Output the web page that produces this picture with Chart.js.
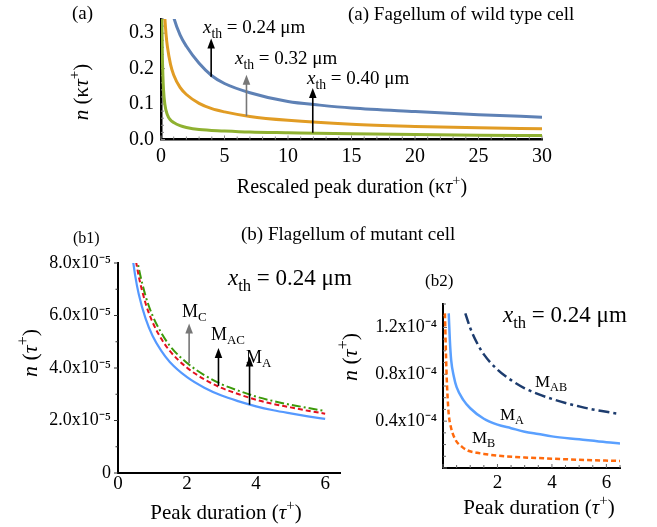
<!DOCTYPE html>
<html>
<head>
<meta charset="utf-8">
<script src="https://cdn.jsdelivr.net/npm/chart.js@4/dist/chart.umd.min.js"></script>
<style>
  html, body { margin: 0; padding: 0; background: #fff; }
  #wrap { position: relative; width: 657px; height: 527px; }
  #wrap canvas { position: absolute; left: 0; top: 0; }
</style>
</head>
<body>
<div id="wrap">
  <canvas id="chartA" width="657" height="527"></canvas>
  <canvas id="chartB1" width="657" height="527"></canvas>
  <canvas id="chartB2" width="657" height="527"></canvas>
</div>
<script>
// ---- (a) wild type: n vs rescaled peak duration (κτ+) ----
const aX024 = [0.85, 1, 1.5, 2, 3, 4, 5, 7, 10, 12.5, 15, 20, 25, 30];
const aY024 = [0.37, 0.345, 0.295, 0.263, 0.215, 0.180, 0.158, 0.132, 0.107, 0.097, 0.089, 0.079, 0.070, 0.063];
const aX032 = [0.25, 0.3, 0.4, 0.5, 0.75, 1, 1.5, 2, 3, 4, 5, 7, 10, 15, 20, 25, 30];
const aY032 = [0.379, 0.345, 0.296, 0.263, 0.212, 0.182, 0.147, 0.127, 0.102, 0.087, 0.078, 0.065, 0.054, 0.043, 0.037, 0.033, 0.030];
const aX040 = [0.07, 0.1, 0.15, 0.2, 0.3, 0.5, 0.75, 1, 1.5, 2, 3, 5, 7, 10, 15, 20, 25, 30];
const aY040 = [0.34, 0.25, 0.18, 0.14, 0.10, 0.07, 0.055, 0.048, 0.039, 0.034, 0.028, 0.024, 0.021, 0.019, 0.016, 0.014, 0.012, 0.011];
const aXTicks = [0, 5, 10, 15, 20, 25, 30];
const aXLabels = ['0', '5', '10', '15', '20', '25', '30'];
const aYTicks = [0, 0.1, 0.2, 0.3];
const aYLabels = ['0.0', '0.1', '0.2', '0.3'];
// arrows: [x, from y, to y]
const aArrows = [[3.95, 0.177, 0.285], [6.73, 0.066, 0.183], [11.95, 0.019, 0.145]];

// ---- (b1) mutant cell, units of 1e-5 ----
const b1X = [0.4, 0.5, 0.6, 0.8, 1, 1.25, 1.5, 2, 2.5, 3, 3.5, 4, 4.5, 5, 5.5, 6];
const b1MA  = [8.42, 7.50, 6.82, 5.88, 5.23, 4.66, 4.23, 3.65, 3.25, 2.95, 2.73, 2.54, 2.39, 2.27, 2.16, 2.06];
const b1MAC = [9.26, 8.25, 7.50, 6.46, 5.75, 5.12, 4.65, 4.01, 3.57, 3.24, 3.00, 2.79, 2.63, 2.50, 2.37, 2.26];
const b1MC  = [9.66, 8.60, 7.82, 6.74, 6.00, 5.35, 4.85, 4.19, 3.73, 3.38, 3.13, 2.91, 2.74, 2.60, 2.48, 2.36];
const b1XTicks = [0, 2, 4, 6];
const b1XLabels = ['0', '2', '4', '6'];
const b1YTicks = [0, 2, 4, 6, 8];
const b1YLabels = ['0', '2.0x10⁻⁵', '4.0x10⁻⁵', '6.0x10⁻⁵', '8.0x10⁻⁵'];
const b1Arrows = [[2.06, 4.19, 5.7], [2.91, 3.32, 4.76], [3.81, 2.6, 4.44]];

// ---- (b2) mutant cell, units of 1e-4 ----
const b2XAB = [0.82, 1, 1.25, 1.5, 2, 2.5, 3, 3.5, 4, 4.5, 5, 5.5, 6, 6.5];
const b2MAB = [1.32, 1.195, 1.067, 0.97, 0.84, 0.75, 0.68, 0.63, 0.59, 0.555, 0.526, 0.50, 0.48, 0.46];
const b2XA = [0.21, 0.25, 0.3, 0.4, 0.5, 0.75, 1, 1.5, 2, 2.5, 3, 3.5, 4, 5, 6, 6.5];
const b2MA = [1.32, 1.10, 0.92, 0.78, 0.69, 0.58, 0.51, 0.42, 0.37, 0.34, 0.31, 0.29, 0.27, 0.245, 0.22, 0.21];
const b2XB = [0.07, 0.1, 0.13, 0.17, 0.21, 0.3, 0.46, 0.7, 0.9, 1.25, 1.5, 2, 3, 4, 5, 6.5];
const b2MB = [1.32, 1.05, 0.81, 0.60, 0.46, 0.34, 0.24, 0.18, 0.15, 0.13, 0.12, 0.105, 0.09, 0.08, 0.07, 0.06];
const b2XTicks = [0, 2, 4, 6];
const b2XLabels = ['', '2', '4', '6'];
const b2YTicks = [0, 0.4, 0.8, 1.2];
const b2YLabels = ['', '0.4x10⁻⁴', '0.8x10⁻⁴', '1.2x10⁻⁴'];

const SERIF = '"Liberation Serif", "Times New Roman", serif';

// text made of runs: [text, style] with style '', 'i', 'sub', 'sup'
function drawRich(ctx, t) {
    const size = t.size;
    ctx.save();
    ctx.translate(t.x, t.y);
    if (t.rot) ctx.rotate(t.rot);
    const runs = t.parts.map(([s, st = '']) => {
        const small = st === 'sub' || st === 'sup';
        const font = (st === 'i' ? 'italic ' : '') + (small ? size * 0.72 : size) + 'px ' + SERIF;
        ctx.font = font;
        const dy = st === 'sub' ? size * 0.24 : st === 'sup' ? -size * 0.42 : 0;
        return { s, font, dy, w: ctx.measureText(s).width };
    });
    const total = runs.reduce((a, r) => a + r.w, 0);
    let cx = t.align === 'center' ? -total / 2 : t.align === 'right' ? -total : 0;
    ctx.fillStyle = '#000';
    ctx.textBaseline = 'alphabetic';
    for (const r of runs) {
        ctx.font = r.font;
        ctx.fillText(r.s, cx, r.dy);
        cx += r.w;
    }
    ctx.restore();
}

const minorTicks = {
    id: 'minorTicks',
    beforeDatasetsDraw(chart, args, o) {
        const { ctx, chartArea: a, scales } = chart;
        ctx.save();
        ctx.strokeStyle = o.color || '#777';
        ctx.lineWidth = 1;
        for (const key of ['x', 'y']) {
            const t = o[key];
            if (!t) continue;
            const s = scales[key];
            const n = Math.round((s.max - s.min) / t.step);
            for (let i = 0; i <= n; i++) {
                const v = s.min + i * t.step;
                const major = Math.abs(v / t.major - Math.round(v / t.major)) < 1e-6;
                const len = (major ? t.long : t.short) * t.dir;
                const p = s.getPixelForValue(v);
                ctx.beginPath();
                if (key === 'x') { ctx.moveTo(p, a.bottom); ctx.lineTo(p, a.bottom - len); }
                else { ctx.moveTo(a.left, p); ctx.lineTo(a.left + len, p); }
                ctx.stroke();
            }
        }
        ctx.restore();
    }
};

const annot = {
    id: 'annot',
    afterDatasetsDraw(chart, args, o) {
        const { ctx, scales: { x, y } } = chart;
        (o.arrows || []).forEach(([ax, y0, y1], i) => {
            const px = x.getPixelForValue(ax), p0 = y.getPixelForValue(y0), p1 = y.getPixelForValue(y1);
            ctx.save();
            ctx.strokeStyle = ctx.fillStyle = o.arrowColors[i];
            ctx.lineWidth = 1.6;
            ctx.beginPath(); ctx.moveTo(px, p0); ctx.lineTo(px, p1 + 8); ctx.stroke();
            ctx.beginPath(); ctx.moveTo(px, p1); ctx.lineTo(px - 3.8, p1 + 10); ctx.lineTo(px + 3.8, p1 + 10);
            ctx.closePath(); ctx.fill();
            ctx.restore();
        });
        (o.texts || []).forEach(t => drawRich(ctx, t));
    }
};

const lineSet = (xs, ys, color, width, dash) => ({
    data: xs.map((x, i) => ({ x, y: ys[i] })),
    borderColor: color, borderWidth: width, borderDash: dash || [],
    pointRadius: 0, fill: false, cubicInterpolationMode: 'monotone'
});

function axis(min, max, ticks, labels, fontSize, pad, fit, horizontal, bw) {
    return {
        type: 'linear', min, max,
        afterBuildTicks: s => { s.ticks = ticks.map(v => ({ value: v })); },
        afterFit: s => { if (horizontal) s.height = fit; else s.width = fit; },
        ticks: {
            callback: (v, i) => labels[i],
            font: { family: SERIF, size: fontSize }, color: '#000',
            padding: pad, maxRotation: 0, autoSkip: false
        },
        grid: { drawOnChartArea: false, drawTicks: false },
        border: { color: '#000', width: bw || 2 }
    };
}

function makeChart(id, datasets, scales, padding, minor, ann) {
    return new Chart(document.getElementById(id), {
        type: 'line',
        data: { datasets },
        options: {
            responsive: false, animation: false, devicePixelRatio: 1,
            layout: { padding },
            scales,
            plugins: { legend: { display: false }, tooltip: { enabled: false }, minorTicks: minor, annot: ann }
        },
        plugins: [minorTicks, annot]
    });
}

const tauPlus = [['τ', 'i'], ['+', 'sup'], [')']];

// chart area a: left 161, right 542, top 17, bottom 139.5
makeChart('chartA', [
    lineSet(aX024, aY024, '#5e81b5', 3),
    lineSet(aX032, aY032, '#e19c24', 3),
    lineSet(aX040, aY040, '#8fb131', 3)
], {
    x: axis(0, 30, aXTicks, aXLabels, 20, 5, 40, true, 2.5),
    y: axis(0, 0.34, aYTicks, aYLabels, 20, 7, 60, false, 2.5)
}, { left: 101, top: 17, right: 115, bottom: 347.5 }, {
    color: '#888',
    x: { step: 1, major: 5, short: 3, long: 4, dir: 1 },
    y: { step: 0.02, major: 0.1, short: 3, long: 4, dir: 1 }
}, {
    arrows: aArrows, arrowColors: ['#000', '#777', '#000'],
    texts: [
        { parts: [['(a)']], x: 72, y: 19, size: 19 },
        { parts: [['(a) Fagellum of wild type cell']], x: 348, y: 20, size: 19 },
        { parts: [['x', 'i'], ['th', 'sub'], [' = 0.24 μm']], x: 203, y: 33, size: 19 },
        { parts: [['x', 'i'], ['th', 'sub'], [' = 0.32 μm']], x: 235, y: 64, size: 19 },
        { parts: [['x', 'i'], ['th', 'sub'], [' = 0.40 μm']], x: 307, y: 84, size: 19 },
        { parts: [['Rescaled peak duration (κ']].concat(tauPlus), x: 352, y: 193, size: 20, align: 'center' },
        { parts: [['n', 'i'], [' (κ']].concat(tauPlus), x: 88, y: 92, size: 21, align: 'center', rot: -Math.PI / 2 }
    ]
});

// chart area b1: left 118, right 340, top 263, bottom 473
makeChart('chartB1', [
    lineSet(b1X, b1MA, '#5599ff', 2.2),
    lineSet(b1X, b1MAC, '#e3101e', 2, [5, 3]),
    lineSet(b1X, b1MC, '#3c9a0a', 2, [9, 3, 2, 3])
], {
    x: axis(0, 6.43, b1XTicks, b1XLabels, 19, 0, 40, true),
    y: axis(0, 8, b1YTicks, b1YLabels, 18, 7, 100, false)
}, { left: 18, top: 263, right: 317, bottom: 14 }, {
    color: '#333',
    y: { step: 1, major: 2, short: 2.5, long: 4, dir: -1 }
}, {
    arrows: b1Arrows, arrowColors: ['#777', '#000', '#000'],
    texts: [
        { parts: [['(b1)']], x: 73, y: 243, size: 16 },
        { parts: [['(b) Flagellum of mutant cell']], x: 241, y: 240, size: 19 },
        { parts: [['x', 'i'], ['th', 'sub'], [' = 0.24 μm']], x: 228, y: 285, size: 23 },
        { parts: [['M'], ['C', 'sub']], x: 182, y: 317, size: 18 },
        { parts: [['M'], ['AC', 'sub']], x: 211, y: 340, size: 18 },
        { parts: [['M'], ['A', 'sub']], x: 246, y: 363, size: 18 },
        { parts: [['Peak duration (']].concat(tauPlus), x: 226, y: 519, size: 21, align: 'center' },
        { parts: [['n', 'i'], [' (']].concat(tauPlus), x: 37, y: 353, size: 22, align: 'center', rot: -Math.PI / 2 }
    ]
});

// chart area b2: left 443, right 620, top 304, bottom 468
makeChart('chartB2', [
    lineSet(b2XAB, b2MAB, '#1d3c6e', 2.5, [11, 4, 3, 4]),
    lineSet(b2XA, b2MA, '#5aa0ff', 2.5),
    lineSet(b2XB, b2MB, '#ff6a0d', 2.5, [5, 3])
], {
    x: axis(0, 6.5, b2XTicks, b2XLabels, 19, 4, 40, true),
    y: axis(0, 1.40, b2YTicks, b2YLabels, 18, 6, 100, false)
}, { left: 343, top: 304, right: 37, bottom: 19 }, {
    color: '#666',
    x: { step: 0.5, major: 2, short: 3, long: 4, dir: 1 },
    y: { step: 0.1, major: 0.4, short: 3, long: 4, dir: 1 }
}, {
    texts: [
        { parts: [['(b2)']], x: 425, y: 286, size: 17 },
        { parts: [['x', 'i'], ['th', 'sub'], [' = 0.24 μm']], x: 503, y: 322, size: 23 },
        { parts: [['M'], ['AB', 'sub']], x: 535, y: 387, size: 17 },
        { parts: [['M'], ['A', 'sub']], x: 500, y: 420, size: 17 },
        { parts: [['M'], ['B', 'sub']], x: 472, y: 443, size: 17 },
        { parts: [['Peak duration (']].concat(tauPlus), x: 539, y: 514, size: 21, align: 'center' },
        { parts: [['n', 'i'], [' (']].concat(tauPlus), x: 357, y: 357, size: 22, align: 'center', rot: -Math.PI / 2 }
    ]
});
</script>
</body>
</html>
